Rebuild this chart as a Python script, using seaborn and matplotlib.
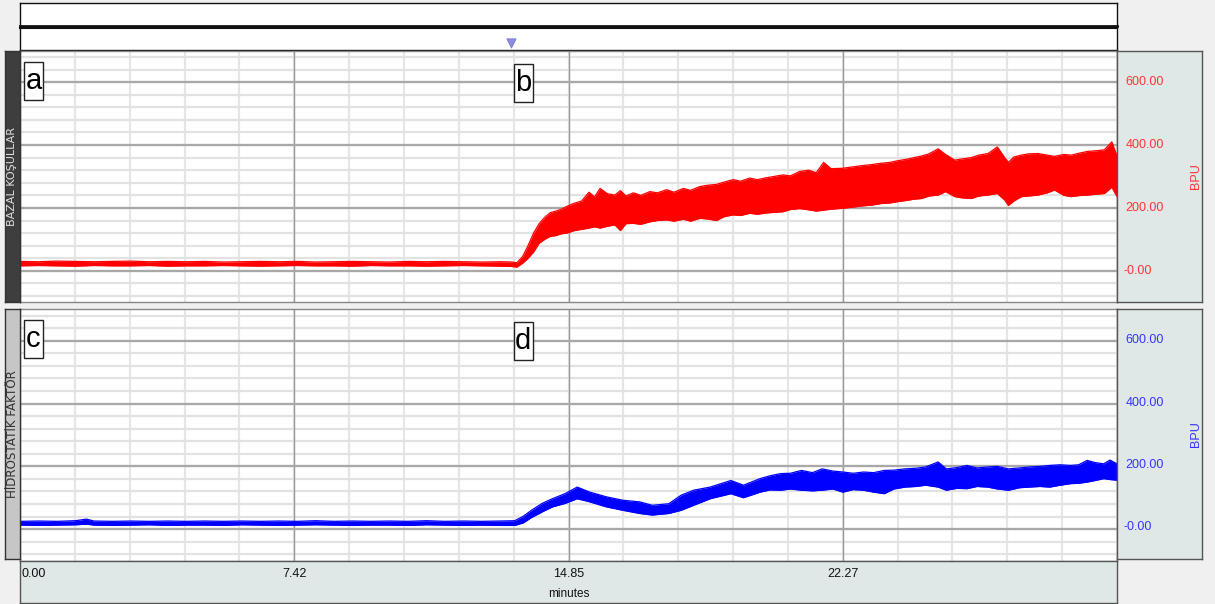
import matplotlib
matplotlib.use("Agg")
import matplotlib.pyplot as plt
import matplotlib.patches as mpatches
import numpy as np
import pandas as pd
import seaborn as sns

# ---------------- data ----------------
x_ticks = [0.00, 7.42, 14.85, 22.27]
x_tick_labels = ["0.00", "7.42", "14.85", "22.27"]
y_ticks = [0, 200, 400, 600]
y_tick_labels = ["-0.00", "200.00", "400.00", "600.00"]
x_max = 29.69

panel_names = ["BAZAL KOŞULLAR", "HİDROSTATİK FAKTÖR"]
panel_letters = [("a", "b"), ("c", "d")]
unit_label = "BPU"
x_label = "minutes"
marker_time = 13.28

red_t = [0.0, 0.5, 1.0, 1.5, 2.0, 2.5, 3.0, 3.5, 4.0, 4.5, 5.0, 5.5, 6.0, 6.5, 7.0,
         7.5, 8.0, 8.5, 9.0, 9.5, 10.0, 10.5, 11.0, 11.5, 12.0, 12.5, 13.0,
         13.3, 13.45, 13.6, 13.75, 13.9, 14.05, 14.2, 14.35, 14.5, 14.65, 14.8,
         15.0, 15.2, 15.4, 15.55, 15.7, 15.9, 16.1, 16.25, 16.4, 16.6, 16.8,
         17.05, 17.25, 17.5, 17.7, 17.95, 18.15, 18.4, 18.6, 18.85,
         19.05, 19.3, 19.5, 19.75, 19.95, 20.2, 20.4, 20.65, 20.85,
         21.1, 21.35, 21.55, 21.75, 21.95, 22.25, 22.5, 22.75,
         23.05, 23.3, 23.55, 23.75, 24.0, 24.2, 24.4, 24.6, 24.85,
         25.05, 25.3, 25.5, 25.75, 25.95, 26.2, 26.45, 26.65, 26.75, 26.9,
         27.1, 27.3, 27.55, 27.8, 28.0, 28.25, 28.45, 28.7, 28.9,
         29.15, 29.35, 29.55, 29.69]
red_upper = [30, 29, 31, 30, 29, 30, 31, 29, 30, 29, 30, 28, 29, 30, 29,
             30, 28, 29, 30, 29, 28, 30, 29, 30, 29, 28, 29,
             28, 26, 45, 80, 120, 150, 170, 185, 190, 196, 205,
             215, 222, 250, 235, 262, 245, 241, 255, 238, 248, 240,
             252, 248, 258, 250, 262, 256, 268, 272, 275,
             282, 290, 285, 295, 290, 296, 300, 305, 302,
             316, 320, 312, 345, 325, 326, 330, 334,
             338, 342, 345, 350, 355, 360, 365, 372, 388,
             370, 352, 356, 360, 368, 373, 394, 360, 345, 362,
             368, 372, 373, 368, 364, 370, 368, 375, 380,
             382, 385, 410, 365]
red_lower = [16, 17, 16, 15, 17, 16, 16, 17, 15, 16, 16, 17, 16, 15, 16,
             17, 16, 16, 15, 17, 16, 16, 15, 16, 17, 16, 15,
             14, 12, 24, 40, 60, 88, 100, 110, 112, 118, 120,
             128, 132, 136, 140, 136, 142, 146, 128, 150, 151, 148,
             156, 160, 162, 158, 164, 158, 167, 165, 160,
             172, 178, 176, 183, 180, 184, 186, 188, 195,
             198, 194, 190, 193, 196, 199, 202, 206,
             209, 214, 216, 220, 224, 228, 230, 238, 241,
             252, 236, 232, 230, 238, 241, 246, 225, 208, 222,
             236, 238, 241, 248, 257, 240, 236, 240, 241,
             244, 246, 266, 236]

blue_t = [0.0, 0.5, 1.0, 1.5, 1.8, 2.0, 2.5, 3.0, 3.5, 4.0, 4.5, 5.0, 5.5, 6.0,
          6.5, 7.0, 7.5, 8.0, 8.5, 9.0, 9.5, 10.0, 10.5, 11.0, 11.5, 12.0, 12.5, 13.0,
          13.39, 13.62, 13.84, 14.13, 14.41, 14.75, 15.08, 15.42, 15.87, 16.32,
          16.77, 17.11, 17.56, 17.89, 18.23, 18.68, 19.24, 19.58, 20.03, 20.3,
          20.59, 20.85, 21.15, 21.45, 21.71, 22.0, 22.27, 22.55, 22.83, 23.1,
          23.39, 23.65, 23.95, 24.25, 24.51, 24.85, 25.07, 25.35, 25.63, 25.9,
          26.19, 26.45, 26.75, 27.05, 27.31, 27.6, 27.87, 28.15, 28.43, 28.65,
          28.88, 29.1, 29.33, 29.5, 29.69]
blue_upper = [25, 26, 25, 27, 32, 26, 25, 26, 25, 26, 25, 26, 25, 26,
              25, 26, 25, 27, 25, 26, 25, 26, 25, 27, 25, 26, 25, 26,
              27, 41, 60, 82, 97, 113, 134, 118, 103, 92,
              87, 76, 81, 108, 124, 134, 155, 140, 161, 170,
              177, 178, 187, 180, 192, 185, 182, 178, 182, 180,
              187, 188, 192, 194, 198, 214, 192, 196, 203, 195,
              198, 200, 192, 195, 198, 200, 203, 205, 203, 205,
              219, 212, 208, 220, 208]
blue_lower = [13, 12, 13, 14, 16, 13, 12, 13, 14, 12, 13, 13, 12, 14,
              13, 12, 13, 14, 13, 12, 13, 13, 12, 14, 13, 12, 13, 12,
              12, 20, 37, 55, 71, 82, 97, 87, 71, 60,
              50, 45, 50, 60, 76, 97, 113, 100, 118, 125,
              124, 128, 124, 122, 124, 128, 118, 126, 124, 118,
              113, 128, 134, 136, 140, 134, 124, 130, 129, 136,
              134, 128, 124, 132, 134, 136, 134, 140, 145, 146,
              150, 155, 161, 158, 156]

# ---------------- styling ----------------
sns.set_theme(style="white")
NARROW = ["Liberation Sans", "DejaVu Sans"]
plt.rcParams["font.family"] = ["DejaVu Sans"]

W, H = 1215, 604
BG = "#f0f0f0"
PANEL = "#dfe7e7"
fig = plt.figure(figsize=(W / 100, H / 100), dpi=100, facecolor=BG)


def box(x0, y0, x1, y1):
    return [x0 / W, 1 - y1 / H, (x1 - x0) / W, (y1 - y0) / H]


def plain(ax, fc, ec="#555555", lw=1.0):
    ax.set_facecolor(fc)
    ax.set_xticks([])
    ax.set_yticks([])
    for s in ax.spines.values():
        s.set_visible(True)
        s.set_color(ec)
        s.set_linewidth(lw)


# header
ax_h1 = fig.add_axes(box(20, 3, 1117, 26))
plain(ax_h1, "white", "#111111", 1.0)
ax_h1.spines["bottom"].set_linewidth(2.0)
ax_h2 = fig.add_axes(box(20, 27.5, 1117, 50))
plain(ax_h2, "white", "#111111", 1.0)
ax_h2.spines["top"].set_linewidth(1.5)
ax_h2.set_xlim(0, x_max)
ax_h2.set_ylim(0, 1)
ax_h2.scatter([marker_time], [0.3], marker="v", s=45, color="#8c8ce0",
              edgecolors="#7070c8", linewidths=0.5, zorder=5)

panels_px = [(50.7, 302.3), (309.3, 560.6)]
series = [(red_t, red_upper, red_lower, "#ff0000", "#ff3333"),
          (blue_t, blue_upper, blue_lower, "#0000ff", "#3333ff")]
strip_styles = [("#3e3e3e", "#e0e0e0", 8.0), ("#c6c6c6", "#333333", 8.6)]

x_minor = [k * x_max / 20 for k in range(21)]
y_minor = list(range(-80, 700, 40))

for i, ((ytop, ybot), (t, up, lo, col, tcol)) in enumerate(zip(panels_px, series)):
    ax = fig.add_axes(box(20, ytop, 1117, ybot))
    ax.set_facecolor("white")
    ax.set_xlim(0, x_max)
    ax.set_ylim(-100, 700)
    for xv in x_minor:
        ax.axvline(xv, color="#e6e6e6", lw=1.6, zorder=0)
    for yv in y_minor:
        ax.axhline(yv, color="#e2e2e2", lw=1.6, zorder=0)
    for xv in x_ticks[1:]:
        ax.axvline(xv, color="#9a9a9a", lw=1.0, zorder=1)
    for yv in y_ticks:
        ax.axhline(yv, color="#a8a8a8", lw=1.6, zorder=1)
    for s in ax.spines.values():
        s.set_color("#888888")
        s.set_linewidth(1.0)

    df = pd.DataFrame({"t": t, "upper": up, "lower": lo})
    ax.fill_between(df["t"], df["lower"], df["upper"], color=col, lw=0, zorder=3)
    sns.lineplot(data=df, x="t", y="upper", ax=ax, color=col, lw=0.9, zorder=4)
    sns.lineplot(data=df, x="t", y="lower", ax=ax, color=col, lw=0.9, zorder=4)
    ax.set_xlabel("")
    ax.set_ylabel("")
    ax.set_xticks([])
    ax.set_yticks([])

    # letters
    for xc, letter, dy in [(33.5, panel_letters[i][0], 0), (523, panel_letters[i][1], 2)]:
        yc = ytop + 30 + dy
        rect = mpatches.Rectangle(((xc - 9.5) / W, 1 - (yc + 19) / H), 19 / W, 38 / H,
                                  transform=fig.transFigure, facecolor="white",
                                  edgecolor="#222222", lw=1.0, zorder=10)
        fig.patches.append(rect)
        fig.text(xc / W, 1 - yc / H, letter, ha="center", va="center",
                 fontsize=21, family=NARROW, color="black", zorder=11)

    # left strip
    sfc, stc, sfs = strip_styles[i]
    ax_s = fig.add_axes(box(5, ytop, 19.5, ybot - (0 if i == 0 else 2)))
    plain(ax_s, sfc, "#333333", 1.0)
    ax_s.text(0.5, 0.5, panel_names[i], rotation=90, ha="center", va="center",
              transform=ax_s.transAxes, fontsize=sfs, color=stc)

    # right axis panel
    ax_r = fig.add_axes(box(1117, ytop, 1202, ybot - (0 if i == 0 else 2)))
    plain(ax_r, PANEL, "#555555", 1.0)
    ax_r.set_ylim(-100, 700)
    ax_r.set_xlim(0, 1)
    for yv, lab in zip(y_ticks, y_tick_labels):
        xo = 0.08 if lab.startswith("-") else 0.1
        ax_r.text(xo, yv, lab, ha="left", va="center", fontsize=9,
                  family=NARROW, color=tcol)
    ax_r.text(0.93, 300, unit_label, rotation=90, ha="center", va="center",
              fontsize=9, family=NARROW, color=tcol)

# x axis panel
ax_x = fig.add_axes(box(20, 561, 1117, 603))
plain(ax_x, PANEL, "#555555", 1.0)
ax_x.set_xlim(0, x_max)
ax_x.set_ylim(0, 1)
for xv, lab in zip(x_ticks, x_tick_labels):
    ax_x.text(xv + (0.04 if xv == 0 else 0), 0.68, lab,
              ha="left" if xv == 0 else "center", va="center",
              fontsize=9, family=NARROW, color="#111111")
ax_x.text(x_ticks[2], 0.22, x_label, ha="center", va="center", fontsize=8.5,
          family=NARROW, color="#111111")

fig.savefig("out.png", dpi=100, facecolor=BG)
